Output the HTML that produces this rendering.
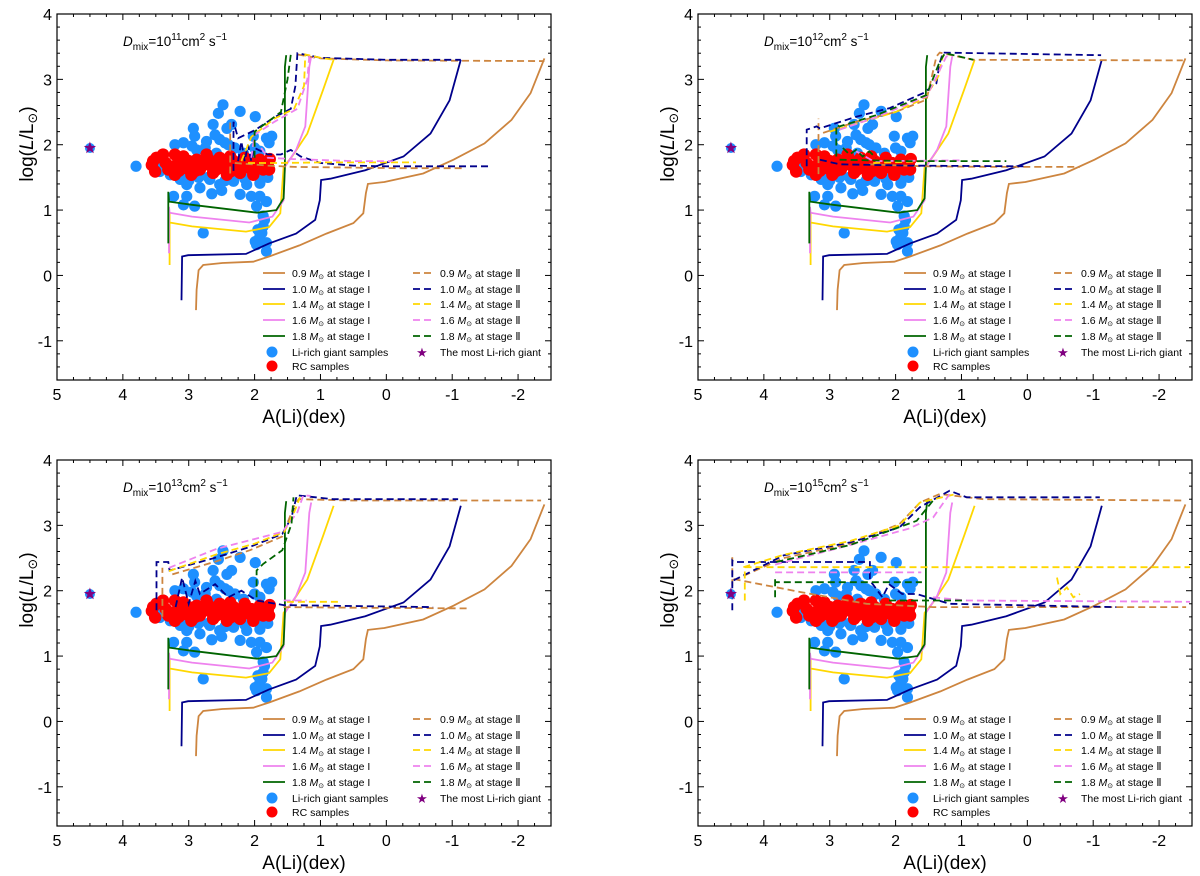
<!DOCTYPE html>
<html><head><meta charset="utf-8">
<style>
html,body{margin:0;padding:0;background:#fff;}
svg{display:block;font-family:"Liberation Sans","DejaVu Sans",sans-serif;}
</style></head>
<body>
<svg id="fig" width="1200" height="876" viewBox="0 0 1200 876" xmlns="http://www.w3.org/2000/svg"></svg>
<script>
// ---------- data (A(Li) dex, log L/Lsun) ----------
const xTicks = [5,4,3,2,1,0,-1,-2];
const xTickLabels = ["5","4","3","2","1","0","-1","-2"];
const yTicks = [4,3,2,1,0,-1];
const yTickLabels = ["4","3","2","1","0","-1"];
const panelExponents = ["11","12","13","15"];
const massLabels = ["0.9","1.0","1.4","1.6","1.8"];
const massColors = ["#cd853f","#00008b","#ffd700","#ee82ee","#006400"];

const liRichA = [3.80,2.48,2.55,2.22,1.99,2.63,2.93,2.91,2.42,2.73,2.53,2.35,3.21,3.08,2.88,2.45,2.02,1.82,1.74,1.78,2.58,2.17,1.92,3.28,3.13,3.03,2.83,2.68,2.53,2.32,2.12,1.92,2.22,2.05,1.92,1.82,3.23,3.03,2.91,3.08,2.78,1.97,1.87,1.87,1.92,1.97,1.82,1.82,3.44,3.39,3.18,2.83,2.37,1.92,1.89,1.99,2.60,2.40,2.30,2.75,2.95,3.00,2.70,2.15,1.80,1.85,2.50,2.65,2.25,3.10,2.85,2.00,1.95,2.45];
const liRichL = [1.67,2.61,2.48,2.51,2.43,2.31,2.25,2.13,2.25,2.05,2.08,2.31,2.00,2.03,1.92,2.03,2.13,2.10,2.13,2.03,1.87,1.87,1.90,1.54,1.47,1.39,1.34,1.47,1.39,1.44,1.39,1.41,1.24,1.21,1.21,1.13,1.21,1.21,1.06,1.08,0.65,1.06,0.91,0.75,0.60,0.47,0.50,0.37,1.59,1.67,1.59,1.54,1.52,1.52,0.65,0.52,2.15,2.00,1.95,1.95,1.98,1.45,1.50,1.48,1.50,0.85,1.30,1.25,1.55,1.50,1.50,1.95,0.70,1.45];
const rcA = [3.56,3.51,3.49,3.39,3.21,3.23,3.21,3.08,3.03,2.96,2.88,2.83,2.73,2.68,2.63,2.53,2.48,2.42,2.37,2.27,2.22,2.15,2.07,2.02,1.92,1.87,1.82,3.13,2.78,2.58,2.32,1.97,2.93,3.31,3.54,3.15,2.60,2.10,1.78,1.77,1.80,2.45,2.90,3.00,2.70,2.20,2.05,2.35,3.35,2.55];
const rcL = [1.69,1.59,1.80,1.85,1.85,1.67,1.54,1.82,1.64,1.54,1.77,1.62,1.85,1.69,1.57,1.80,1.64,1.54,1.82,1.67,1.57,1.80,1.64,1.54,1.77,1.62,1.72,1.72,1.69,1.62,1.75,1.69,1.67,1.62,1.75,1.60,1.72,1.70,1.62,1.78,1.70,1.72,1.60,1.75,1.78,1.65,1.72,1.60,1.72,1.68];
const starA = [4.5];
const starL = [1.95];

// stage I tracks (identical in all panels)
const stageI_09 = [[2.89,-0.53],[2.88,-0.22],[2.85,0.08],[2.78,0.16],[2.49,0.19],[2.02,0.21],[1.78,0.29],[1.32,0.46],[0.91,0.64],[0.50,0.80],[0.35,0.95],[0.31,1.26],[0.28,1.40],[0.03,1.43],[-0.56,1.56],[-1.02,1.77],[-1.49,2.02],[-1.90,2.38],[-2.19,2.79],[-2.40,3.32]];
const stageI_10 = [[3.11,-0.38],[3.10,0.29],[3.01,0.31],[2.13,0.33],[1.78,0.49],[1.37,0.64],[1.08,0.85],[1.01,1.15],[0.99,1.46],[0.85,1.48],[0.32,1.61],[-0.26,1.82],[-0.67,2.17],[-0.96,2.68],[-1.13,3.30]];
const stageI_14 = [[3.29,0.16],[3.29,0.95],[3.29,0.81],[2.95,0.75],[2.13,0.67],[1.78,0.74],[1.61,0.95],[1.56,1.66],[1.43,1.82],[1.20,2.17],[0.96,2.84],[0.80,3.30]];
const stageI_16 = [[3.30,0.34],[3.30,1.05],[3.29,0.96],[2.95,0.90],[2.08,0.81],[1.73,0.90],[1.56,1.15],[1.54,1.66],[1.37,1.92],[1.23,2.28],[1.17,3.19],[1.14,3.35]];
const stageI_18 = [[3.31,0.49],[3.31,1.28],[3.30,1.13],[2.95,1.08],[1.96,0.96],[1.67,1.00],[1.56,1.18],[1.54,1.66],[1.54,3.19],[1.52,3.37]];

// stage II tracks, one array per panel per mass (list of segments)
const D11_09 = [[[2.37,1.56],[2.37,2.38]],[[2.3,1.72],[1.8,1.68],[1.4,1.66],[0.5,1.65],[-0.2,1.64],[-1.15,1.64]],[[1.35,3.38],[1.0,3.32],[0,3.29],[-2.4,3.28]]];
const D11_10 = [[[2.32,1.6],[2.32,2.35],[2.25,2.1],[2.0,2.22],[1.7,2.42],[1.45,2.55],[1.38,2.9],[1.35,3.4],[1.0,3.33],[0,3.3],[-1.13,3.30]],[[2.25,1.75],[2.2,2.05],[2.15,1.75],[2.1,2.0],[2.05,1.75],[2.0,1.95],[1.8,1.85],[1.6,1.85],[1.45,1.92],[1.3,1.82],[1.0,1.72],[0.5,1.68],[0,1.67],[-1.6,1.67]]];
const D11_14 = [[[2.2,1.75],[2.05,2.12],[1.7,2.4],[1.4,2.55],[1.25,2.9],[1.23,3.38],[1.0,3.33],[0.8,3.30]],[[2.1,1.72],[1.6,1.72],[1.0,1.73],[0,1.73],[-0.45,1.73]]];
const D11_16 = [[[2.05,1.8],[2.0,2.15],[1.7,2.35],[1.35,2.55],[1.2,3.0],[1.17,3.36],[1.1,3.33]],[[1.9,1.95],[1.8,1.8],[1.4,1.78],[0.5,1.75],[-0.1,1.75]]];
const D11_18 = [[[2.0,1.8],[2.0,2.2],[1.8,2.35],[1.6,2.5],[1.5,3.0],[1.45,3.38],[1.42,3.4]]];

const D12_09 = [[[3.17,1.55],[3.17,2.4]],[[3.10,2.18],[2.6,2.35],[2.0,2.5],[1.53,2.69],[1.38,3.35],[1.33,3.41],[0.82,3.30],[-2.36,3.29]],[[2.4,1.7],[1.58,1.67],[0.5,1.66],[-0.80,1.66]]];
const D12_10 = [[[3.35,1.67],[3.35,2.23],[3.20,2.28],[3.15,2.25],[2.59,2.43],[2.09,2.56],[1.58,2.79],[1.38,2.94],[1.33,3.25],[1.28,3.41],[-1.12,3.37]],[[3.15,1.77],[2.85,1.70],[1.83,1.68],[0.06,1.67]]];
const D12_14 = [[[3.0,2.2],[2.5,2.35],[2.0,2.5],[1.55,2.72],[1.35,3.05],[1.28,3.37]],[[2.34,1.72],[1.53,1.75]]];
const D12_16 = [[[2.85,2.23],[2.3,2.42],[1.53,2.74],[1.35,3.1],[1.23,3.35],[1.13,3.37]],[[2.6,1.9],[2.34,1.75],[1.02,1.76]]];
const D12_18 = [[[2.90,1.82],[2.90,2.3],[2.85,2.28],[2.3,2.45],[1.53,2.76],[1.33,3.27],[1.25,3.40],[0.82,3.30]],[[2.85,1.77],[1.83,1.75],[0.32,1.75]],[[2.8,1.95],[2.7,1.85],[2.6,1.92],[2.5,1.82],[2.4,1.9],[2.3,1.8]]];

const D13_09 = [[[3.40,1.60],[3.40,2.35]],[[3.25,2.25],[2.58,2.45],[2.07,2.62],[1.58,2.83],[1.40,3.3],[1.33,3.40],[0.5,3.38],[-1.22,3.38],[-2.35,3.38]],[[1.56,1.75],[0.5,1.74],[-1.22,1.73]]];
const D13_10 = [[[3.49,1.70],[3.49,2.44],[3.31,2.44],[3.29,2.31],[2.58,2.51],[2.07,2.67],[1.58,2.87],[1.44,3.12],[1.36,3.46],[0.81,3.40],[-1.09,3.40]],[[3.2,1.75],[3.1,2.2],[3.0,1.8],[2.9,2.15],[2.83,1.95],[2.6,2.1],[2.4,1.9],[2.2,2.0],[1.97,1.85],[1.56,1.78],[-0.71,1.75]]];
const D13_14 = [[[3.3,2.3],[2.6,2.55],[2.0,2.72],[1.55,2.9],[1.40,3.2],[1.31,3.43]],[[1.51,1.83],[0.71,1.83]]];
const D13_16 = [[[3.3,2.35],[2.58,2.64],[1.58,2.90],[1.35,3.2],[1.26,3.46],[1.15,3.45]],[[1.56,1.85],[1.21,1.85]]];
const D13_18 = [[[1.97,1.90],[1.97,2.31],[1.87,2.41],[1.58,2.62],[1.44,3.02],[1.41,3.43]]];

const D15_09 = [[[4.48,1.9],[4.48,2.55]],[[4.46,2.18],[3.45,1.98],[2.44,1.80],[1.43,1.75],[-2.41,1.75]],[[4.46,2.16],[3.7,2.5],[2.69,2.72],[1.94,3.02],[1.63,3.35],[1.33,3.48],[0.67,3.40],[-2.36,3.38]]];
const D15_10 = [[[4.48,1.70],[4.48,2.46],[4.46,2.44],[2.39,2.44],[2.39,2.16],[2.2,1.9],[2.1,2.1],[1.9,1.95],[1.68,1.95],[1.18,1.80],[-1.35,1.75]],[[4.46,2.16],[3.70,2.54],[2.69,2.74],[1.94,2.97],[1.63,3.28],[1.18,3.53],[0.92,3.43],[-1.1,3.43]]];
const D15_14 = [[[4.29,1.85],[4.29,2.36],[-2.47,2.36]],[[4.31,2.36],[3.7,2.55],[2.69,2.76],[1.94,3.0],[1.63,3.35],[1.08,3.48]],[[-0.45,2.2],[-0.5,1.95],[-0.6,2.05],[-0.7,1.9],[-0.8,1.95]]];
const D15_16 = [[[3.83,2.28],[1.61,2.28]],[[1.43,1.90],[0.92,1.85],[-2.47,1.83]],[[3.83,2.4],[2.69,2.7],[1.8,2.95],[1.43,3.12],[1.18,3.48]]];
const D15_18 = [[[3.83,1.9],[3.83,2.2],[3.83,2.13],[1.60,2.13]],[[2.1,1.85],[0.93,1.85]],[[3.81,2.44],[2.69,2.7],[1.68,3.07],[1.43,3.38]]];

const stageIISets = [
  [D11_09,D11_10,D11_14,D11_16,D11_18],
  [D12_09,D12_10,D12_14,D12_16,D12_18],
  [D13_09,D13_10,D13_14,D13_16,D13_18],
  [D15_09,D15_10,D15_14,D15_16,D15_18]
];
const stageISet = [stageI_09,stageI_10,stageI_14,stageI_16,stageI_18];

// ---------- drawing ----------
const NS = "http://www.w3.org/2000/svg";
const svg = document.getElementById("fig");
const PW = 494, PH = 366, XMIN = -2.5, XMAX = 5, YMIN = -1.6, YMAX = 4;
const panelOrigins = [[57,14],[698,14],[57,460],[698,460]];

function mk(tag, parent, attrs){
  const e = document.createElementNS(NS, tag);
  for (const k in attrs) e.setAttribute(k, attrs[k]);
  parent.appendChild(e);
  return e;
}

panelOrigins.forEach((o, pi) => {
  const [L0, T0] = o;
  const sx = a => L0 + (XMAX - a) / (XMAX - XMIN) * PW;
  const sy = l => T0 + (YMAX - l) / (YMAX - YMIN) * PH;
  const g = mk("g", svg, {});
  
  

  const clipId = "clip" + pi;
  const cp = mk("clipPath", g, {id: clipId});
  mk("rect", cp, {x: L0, y: T0, width: PW, height: PH});
  const plot = mk("g", g, {"clip-path": "url(#" + clipId + ")"});
  
  

  liRichA.forEach((a, i) => {
    const c = mk("circle", plot, {cx: sx(a), cy: sy(liRichL[i]), r: 5.6, fill: "#1e90ff"});
    
    
  });
  rcA.forEach((a, i) => {
    const c = mk("circle", plot, {cx: sx(a), cy: sy(rcL[i]), r: 6.2, fill: "#ff0000"});
    
    
  });

  const ptsStr = arr => arr.map(p => sx(p[0]).toFixed(1) + "," + sy(p[1]).toFixed(1)).join(" ");
  stageISet.forEach((tr, mi) => {
    const pl = mk("polyline", plot, {points: ptsStr(tr), fill: "none", stroke: massColors[mi], "stroke-width": 1.8});
    
    
  });
  stageIISets[pi].forEach((segs, mi) => {
    segs.forEach(seg => {
      const pl = mk("polyline", plot, {points: ptsStr(seg), fill: "none", stroke: massColors[mi], "stroke-width": 1.8, "stroke-dasharray": "7,4"});
      
      
    });
  });
  starA.forEach((a, i) => {
    const cx = sx(a), cy = sy(starL[i]);
    const pts = [];
    for (let k = 0; k < 10; k++) {
      const r = k % 2 ? 2.6 : 6.5, t = -Math.PI / 2 + k * Math.PI / 5;
      pts.push((cx + r * Math.cos(t)).toFixed(1) + "," + (cy + r * Math.sin(t)).toFixed(1));
    }
    mk("circle", plot, {cx: cx, cy: cy, r: 5, fill: "#1e90ff"});
    const s = mk("polygon", plot, {points: pts.join(" "), fill: "#800080"});
    
    
  });

  const fr = mk("rect", g, {x: L0, y: T0, width: PW, height: PH, fill: "none", stroke: "#000", "stroke-width": 1.2});
  
  

  const tk = mk("g", g, {stroke: "#000", "stroke-width": 1});
  
  
  for (let v = -2.5; v <= 5.001; v += 0.25) {
    const major = Math.abs(v - Math.round(v)) < 1e-6;
    const len = major ? 6 : 3, x = sx(v);
    mk("line", tk, {x1: x, x2: x, y1: T0 + PH, y2: T0 + PH - len});
    mk("line", tk, {x1: x, x2: x, y1: T0, y2: T0 + len});
  }
  for (let v = -1.6; v <= 4.001; v += 0.2) {
    const major = Math.abs(v - Math.round(v)) < 1e-6;
    const len = major ? 6 : 3, y = sy(v);
    mk("line", tk, {x1: L0, x2: L0 + len, y1: y, y2: y});
    mk("line", tk, {x1: L0 + PW, x2: L0 + PW - len, y1: y, y2: y});
  }
  xTicks.forEach((v, i) => {
    const t = mk("text", g, {x: sx(v), y: T0 + PH + 20, "font-size": 16, "text-anchor": "middle"});
    t.textContent = xTickLabels[i];
    
    
  });
  yTicks.forEach((v, i) => {
    const t = mk("text", g, {x: L0 - 5, y: sy(v) + 6, "font-size": 16, "text-anchor": "end"});
    t.textContent = yTickLabels[i];
    
    
  });
  const xl = mk("text", g, {x: L0 + PW / 2, y: T0 + PH + 43, "font-size": 19, "text-anchor": "middle"});
  xl.textContent = "A(Li)(dex)";
  
  
  const yl = mk("text", g, {x: 0, y: 0, "font-size": 19, "text-anchor": "middle", transform: "translate(" + (L0 - 24) + "," + (T0 + 130) + ") rotate(-90)"});
  yl.innerHTML = 'log(<tspan font-style="italic">L</tspan>/L<tspan font-size="13" dy="4">⊙</tspan><tspan dy="-4">)</tspan>';
  
  

  const tt = mk("text", g, {x: L0 + 66, y: T0 + 32, "font-size": 13.5});
  tt.innerHTML = '<tspan font-style="italic">D</tspan><tspan font-size="10" dy="4">mix</tspan><tspan dy="-4">=10</tspan><tspan font-size="10" dy="-6">' + panelExponents[pi] + '</tspan><tspan dy="6">cm</tspan><tspan font-size="10" dy="-6">2</tspan><tspan dy="6"> s</tspan><tspan font-size="10" dy="-6">−1</tspan>';
  
  

  const lg = mk("g", g, {"font-size": 10.5});
  
  
  const rowY = [259,275,290,306,322];
  massLabels.forEach((m, i) => {
    const y = T0 + rowY[i];
    const l1 = mk("line", lg, {x1: L0 + 206, x2: L0 + 228, y1: y, y2: y, stroke: massColors[i], "stroke-width": 1.8});
    
    
    const t1 = mk("text", lg, {x: L0 + 235, y: y + 4});
    t1.innerHTML = m + ' <tspan font-style="italic">M</tspan><tspan font-size="7" dy="2">⊙</tspan><tspan dy="-2">  at stage I</tspan>';
    
    
    const l2 = mk("line", lg, {x1: L0 + 356, x2: L0 + 375, y1: y, y2: y, stroke: massColors[i], "stroke-width": 1.8, "stroke-dasharray": "7,4"});
    
    
    const t2 = mk("text", lg, {x: L0 + 383, y: y + 4});
    t2.innerHTML = m + ' <tspan font-style="italic">M</tspan><tspan font-size="7" dy="2">⊙</tspan><tspan dy="-2"> at stage Ⅱ</tspan>';
    
    
  });
  const c1 = mk("circle", lg, {cx: L0 + 215, cy: T0 + 338, r: 5.5, fill: "#1e90ff"});
  
  
  const tl1 = mk("text", lg, {x: L0 + 235, y: T0 + 342});
  tl1.textContent = "Li-rich giant samples";
  
  
  const c2 = mk("circle", lg, {cx: L0 + 215, cy: T0 + 352, r: 5.5, fill: "#ff0000"});
  
  
  const tl2 = mk("text", lg, {x: L0 + 235, y: T0 + 356});
  tl2.textContent = "RC samples";
  
  
  const st = mk("text", lg, {x: L0 + 365, y: T0 + 343, "font-size": 13, fill: "#800080", "text-anchor": "middle"});
  st.textContent = "★";
  
  
  const tl3 = mk("text", lg, {x: L0 + 383, y: T0 + 342});
  tl3.textContent = "The most Li-rich giant";
  
  
});
</script>
</body></html>
